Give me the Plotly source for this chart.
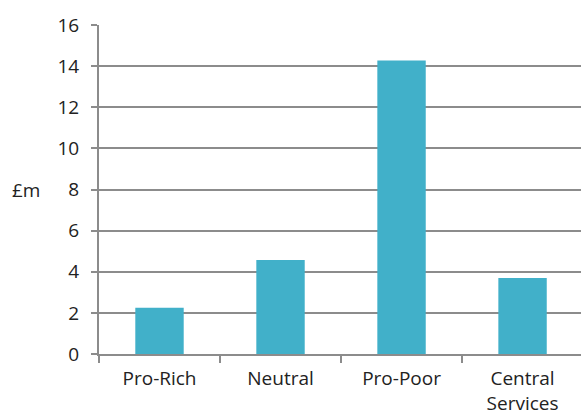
import plotly.graph_objects as go

# Spending by category (£m)
categories = ["Pro-Rich", "Neutral", "Pro-Poor", "Central Services"]
tick_labels = ["Pro-Rich", "Neutral", "Pro-Poor", "Central<br>Services"]
values = [2.25, 4.57, 14.27, 3.70]

y_ticks = [0, 2, 4, 6, 8, 10, 12, 14, 16]

BAR = "#41b0c9"
GRID = "#8c8c8c"
FONT = "Open Sans"
FSIZE = 19

fig = go.Figure(
    go.Bar(
        x=categories,
        y=values,
        marker=dict(color=BAR, line=dict(width=0)),
        width=0.4,
    )
)

fig.update_layout(
    width=581,
    height=415,
    margin=dict(l=99, r=0, t=25, b=61),
    paper_bgcolor="white",
    plot_bgcolor="white",
    font=dict(family=FONT, size=FSIZE, color="#222222"),
    showlegend=False,
)

fig.update_xaxes(
    type="category",
    tickmode="array",
    tickvals=categories,
    ticktext=tick_labels,
    range=[-0.5, 3.483],
    tickson="boundaries",
    ticks="outside",
    ticklen=7,
    tickwidth=2,
    tickcolor=GRID,
    showline=True,
    linecolor=GRID,
    linewidth=2,
    showgrid=False,
    tickfont=dict(family=FONT, size=FSIZE),
    ticklabelstandoff=6,
)

fig.update_yaxes(
    range=[0, 16],
    tickvals=y_ticks,
    ticks="outside",
    ticklen=6,
    tickwidth=1.5,
    tickcolor=GRID,
    showline=True,
    linecolor=GRID,
    linewidth=2,
    showgrid=True,
    gridcolor=GRID,
    gridwidth=1.5,
    zeroline=False,
    tickfont=dict(family=FONT, size=FSIZE),
    ticklabelstandoff=8,
)

# Unit label beside the value axis
fig.add_annotation(
    text="£m",
    xref="paper",
    yref="paper",
    x=-0.151,
    y=0.5,
    xanchor="center",
    yanchor="middle",
    showarrow=False,
    font=dict(family=FONT, size=FSIZE, color="#222222"),
)

fig.write_html("out.html")
